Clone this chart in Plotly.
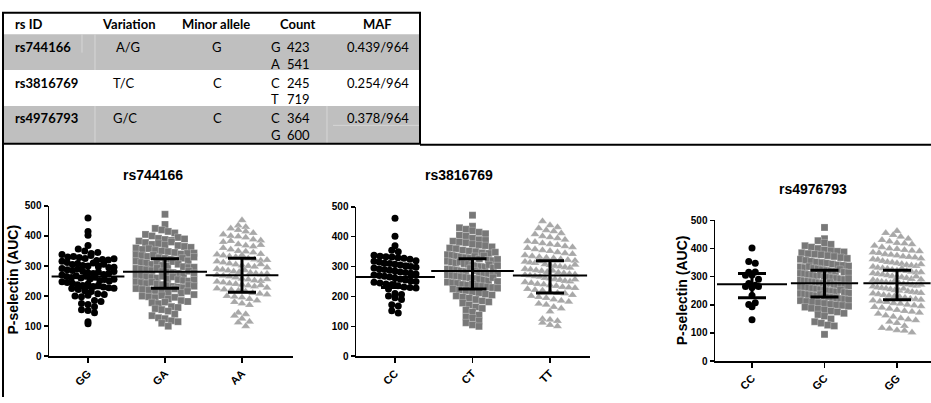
import numpy as np
import plotly.graph_objects as go

W, H = 931, 403

# ---------------- table data ----------------
table_headers = ["rs ID", "Variation", "Minor allele", "Count", "MAF"]
rs_ids = ["rs744166", "rs3816769", "rs4976793"]
variations = ["A/G", "T/C", "G/C"]
minor_alleles = ["G", "C", "C"]
count_alleles = [["G", "A"], ["C", "T"], ["C", "G"]]
count_values = [[423, 541], [245, 719], [364, 600]]
maf = ["0.439/964", "0.254/964", "0.378/964"]

# ---------------- plot data ----------------
panel_titles = ["rs744166", "rs3816769", "rs4976793"]
genotypes_1 = ["GG", "GA", "AA"]
genotypes_2 = ["CC", "CT", "TT"]
genotypes_3 = ["CC", "GC", "GG"]
y_title = "P-selectin (AUC)"
y_ticks = [0, 100, 200, 300, 400, 500]

rs744166_GG = [460, 415, 402, 368, 357, 350,
               342, 338, 345, 330, 332, 328, 325, 335,
               318, 322, 316, 320, 312, 324, 305, 308, 302, 300, 310, 298, 306,
               292, 288, 295, 285, 290, 283, 296, 278, 275, 280, 272, 276, 282, 270,
               265, 262, 268, 260, 266, 258, 263, 252, 248, 255, 245, 250, 243, 256,
               238, 235, 240, 232, 236, 230, 225, 222, 228, 218, 226, 215,
               208, 205, 200, 198, 203, 185, 182, 175, 172, 165, 155, 152, 145, 115, 108]
rs744166_GA = [472, 438, 425, 420, 415, 410, 405, 400,
               392, 388, 385, 395, 390, 383, 378, 372, 375, 370, 380, 368, 365,
               360, 355, 358, 352, 362, 350, 348, 345, 340, 338, 342, 335, 343, 332, 336,
               328, 325, 322, 320, 326, 318, 330, 316, 312, 310, 305, 308, 302, 300, 315, 306,
               298, 295, 292, 290, 288, 296, 285, 293, 282, 280, 278, 275, 272, 283, 276, 270,
               268, 265, 262, 260, 266, 258, 264, 255, 252, 250, 248, 245, 242, 254, 246, 240,
               238, 235, 232, 230, 228, 236, 225, 233, 222, 220, 218, 215, 212, 224, 210, 216,
               205, 200, 198, 195, 202, 190, 196, 185, 182, 178, 175, 180,
               165, 162, 158, 155, 150, 140, 135, 128, 125, 118, 115, 110, 100]
rs744166_AA = [452, 435, 430, 425, 420, 415, 410, 405, 400, 398, 395,
               388, 385, 380, 383, 372, 368, 365, 370, 360, 355, 350, 348, 345,
               340, 338, 335, 332, 330, 336, 325, 322, 318, 320, 315, 312,
               308, 305, 302, 300, 298, 306, 295, 290, 288, 285, 282, 280, 286, 278,
               275, 272, 270, 268, 265, 262, 274, 258, 255, 252, 250, 248, 245, 256,
               242, 240, 238, 235, 232, 236, 228, 225, 222, 220, 218, 215,
               210, 208, 205, 200, 198, 195, 190, 185, 180, 175, 170,
               145, 140, 135, 125, 115, 112, 100]

rs3816769_CC = [462, 402, 370, 355, 350, 338, 335, 333, 332, 330, 328, 325, 320, 318, 315,
                312, 310, 308, 305, 302, 300, 298, 295, 292, 290, 288, 285, 282, 280, 278,
                275, 272, 270, 268, 265, 262, 258, 255, 252, 250, 248, 245, 242, 240, 236,
                232, 230, 228, 225, 210, 207, 202, 196, 190, 172, 168, 152, 145]
rs3816769_CT = [472, 435, 430, 425, 420, 415, 410, 405, 402,
                395, 390, 388, 385, 382, 380, 375, 372, 370, 366, 362, 360,
                355, 352, 350, 346, 344, 340, 348, 338, 335, 332, 330, 328, 334, 326, 336,
                322, 320, 318, 315, 312, 324, 316, 310, 308, 305, 302, 300, 298, 306, 296, 303,
                292, 290, 288, 285, 283, 294, 286, 280, 278, 276, 274, 272, 270, 268, 277, 266,
                264, 262, 260, 258, 255, 252, 263, 250, 248, 246, 244, 240, 238, 242, 236,
                234, 232, 230, 228, 225, 222, 220, 215, 212, 208, 205, 202, 198,
                195, 190, 185, 182, 178, 172, 165, 160, 155,
                148, 138, 132, 128, 118, 112, 105, 100]
rs3816769_TT = [452, 438, 432, 428, 422, 418, 412, 408, 402, 398, 395, 390,
                385, 382, 378, 375, 372, 368, 365, 362, 358, 355, 352, 348, 345, 342,
                338, 335, 332, 330, 328, 325, 322, 320, 316, 314, 312, 318,
                308, 305, 302, 300, 298, 296, 306, 292, 290, 288, 285, 282, 286, 280,
                278, 275, 272, 270, 268, 266, 274, 262, 260, 258, 255, 252, 250, 257,
                248, 245, 242, 240, 238, 235, 232, 230, 228, 225, 222, 220,
                215, 212, 210, 205, 202, 198, 195, 190, 186, 182, 176, 172,
                165, 160, 150, 125, 122, 118, 112, 105, 100]

rs4976793_CC = [402, 354, 348, 316, 305, 306, 317, 291, 276, 265, 262, 265, 270,
                233, 201, 193, 207, 147]
rs4976793_GC = [475, 435, 428, 420, 415, 410, 405, 400,
                395, 392, 390, 388, 385, 382, 380, 378, 375, 372, 368, 365, 362,
                358, 355, 352, 350, 348, 345, 342, 340, 338, 335, 332, 336, 330,
                328, 325, 322, 320, 318, 326, 316, 314, 312, 310, 308, 305, 302, 306, 300,
                298, 296, 294, 292, 290, 288, 293, 285, 284, 282, 280, 278, 276, 274, 279, 272,
                270, 268, 266, 264, 262, 260, 267, 258, 256, 254, 252, 250, 248, 246, 253, 244,
                242, 240, 238, 236, 234, 232, 237, 230, 228, 226, 224, 222, 220, 218, 215,
                212, 210, 208, 205, 202, 200, 198, 195, 192, 188, 185, 182,
                178, 175, 170, 165, 160, 150, 140, 135, 128, 125, 95]
rs4976793_GG = [462, 455, 448, 442, 435, 430, 425, 420, 418, 415, 410, 405,
                400, 398, 395, 392, 390, 386, 384, 380, 378, 375, 372, 370,
                368, 365, 362, 360, 356, 352, 350, 348, 345, 342, 340, 338, 344,
                335, 332, 330, 328, 325, 322, 329, 320, 318, 315, 312, 310, 308, 316,
                305, 302, 300, 298, 295, 292, 301, 290, 288, 285, 282, 280, 278, 286,
                276, 274, 272, 270, 268, 265, 271, 262, 260, 258, 255, 252, 250, 257,
                248, 246, 244, 242, 240, 238, 235, 232, 230, 228, 225, 222,
                220, 218, 215, 212, 210, 206, 204, 200, 198, 195, 192,
                190, 186, 182, 178, 175, 172, 168, 162, 158, 152,
                148, 145, 140, 135, 125, 118, 115, 110, 108, 102]

# centre line and error-bar ends
centre_1 = [265, 281, 269]
lower_1 = [228, 226, 213]
upper_1 = [305, 324, 326]
centre_2 = [265, 285, 270]
lower_2 = [230, 225, 212]
upper_2 = [308, 326, 320]
centre_3 = [273, 277, 277]
lower_3 = [225, 228, 218]
upper_3 = [311, 323, 323]

# ---------------- helpers ----------------
def fx(p):
    return p / W


def fy(p):
    return 1 - p / H


def swarm_offsets(vals, px_per_unit, max_half_px, dot_px=7.0, row_px=7.0):
    vals = np.asarray(vals, float)
    rows = np.floor(vals * px_per_unit / row_px).astype(int)
    off = np.zeros(len(vals))
    for r in np.unique(rows):
        idx = np.where(rows == r)[0]
        n = len(idx)
        if n == 1:
            continue
        step = min(dot_px, 2 * max_half_px / (n - 1))
        off[idx] = (np.arange(n) - (n - 1) / 2) * step
    return off


BLACK = "#000000"
DGRAY = "#787878"
LGRAY = "#a8a8a8"
styles = [("circle", BLACK, 7), ("square", DGRAY, 7), ("triangle-up", LGRAY, 8)]

# panel geometry (pixels)
panels = [
    dict(groups=[rs744166_GG, rs744166_GA, rs744166_AA], labels=genotypes_1,
         centre=centre_1, lower=lower_1, upper=upper_1,
         x0=49, x1=293, cat0=88, spacing=77, ybot=361, ytop=206,
         halfw=[26, 29, 25], meanw=[52, 60, 52]),
    dict(groups=[rs3816769_CC, rs3816769_CT, rs3816769_TT], labels=genotypes_2,
         centre=centre_2, lower=lower_2, upper=upper_2,
         x0=356, x1=590, cat0=395, spacing=77.5, ybot=361, ytop=207,
         halfw=[21, 25, 25], meanw=[57, 59, 53]),
    dict(groups=[rs4976793_CC, rs4976793_GC, rs4976793_GG], labels=genotypes_3,
         centre=centre_3, lower=lower_3, upper=upper_3,
         x0=715, x1=931, cat0=752, spacing=72.5, ybot=366, ytop=221,
         halfw=[18, 24, 24], meanw=[50, 48, 48]),
]

fig = go.Figure()
layout_axes = {}
ytick_font = dict(family="Arial, Liberation Sans", size=10, color="black", weight="bold")
xtick_font = dict(family="Arial, Liberation Sans", size=11, color="black", weight="bold")

for i, p in enumerate(panels):
    k = "" if i == 0 else str(i + 1)
    xa, ya = "x" + k, "y" + k
    px_per_unit = (p["ybot"] - p["ytop"]) / 500.0
    for j, vals in enumerate(p["groups"]):
        sym, col, size = styles[j]
        off = swarm_offsets(vals, px_per_unit, p["halfw"][j], dot_px=size - 0.5)
        xs = j + off / p["spacing"]
        fig.add_trace(go.Scatter(
            x=xs, y=vals, mode="markers", xaxis=xa, yaxis=ya, showlegend=False,
            marker=dict(symbol=sym, color=col, size=size,
                        line=dict(width=0.4, color="rgba(255,255,255,0.6)") if j > 0 else dict(width=0)),
            hoverinfo="skip", cliponaxis=False))
    # error bars
    cen = np.array(p["centre"], float)
    up = np.array(p["upper"], float) - cen
    lo = cen - np.array(p["lower"], float)
    fig.add_trace(go.Scatter(
        x=[0, 1, 2], y=cen, mode="markers", xaxis=xa, yaxis=ya, showlegend=False,
        marker=dict(size=1, color="rgba(0,0,0,0)"),
        error_y=dict(type="data", symmetric=False, array=up, arrayminus=lo,
                     color="black", thickness=3, width=14),
        hoverinfo="skip", cliponaxis=False))
    # centre lines
    for j in range(3):
        fig.add_trace(go.Scatter(
            x=[j], y=[cen[j]], mode="markers", xaxis=xa, yaxis=ya, showlegend=False,
            marker=dict(symbol="line-ew", size=p["meanw"][j],
                        line=dict(width=2, color="black")),
            hoverinfo="skip", cliponaxis=False))

    left = (p["x0"] - p["cat0"]) / p["spacing"]
    right = (p["x1"] - p["cat0"]) / p["spacing"]
    layout_axes["xaxis" + k] = dict(
        domain=[fx(p["x0"]), fx(p["x1"])], range=[left, right], anchor=ya,
        tickmode="array", tickvals=[0, 1, 2], ticktext=p["labels"], tickangle=-45,
        showline=True, linecolor="black", linewidth=1.5, ticks="outside",
        ticklen=5, tickwidth=1.5, tickcolor="black", showgrid=False, zeroline=False,
        tickfont=xtick_font, fixedrange=True)
    layout_axes["yaxis" + k] = dict(
        domain=[fy(p["ybot"]), fy(p["ytop"])], range=[0, 500], anchor=xa,
        tickmode="array", tickvals=y_ticks,
        showline=True, linecolor="black", linewidth=1.5, ticks="outside",
        ticklen=4, tickwidth=1.5, tickcolor="black", showgrid=False, zeroline=False,
        tickfont=ytick_font, fixedrange=True)

shapes = []
annotations = []

# ---------------- table ----------------
GRAYROW = "#bfbfbf"
row_tops = [29, 66, 103]
row_bots = [66, 103, 142]
for r in range(3):
    if r != 1:
        shapes.append(dict(type="rect", xref="paper", yref="paper", x0=fx(3), x1=fx(420),
                           y0=fy(row_bots[r]), y1=fy(row_tops[r]), fillcolor=GRAYROW,
                           line=dict(width=0), layer="below"))
# faint cell lines inside gray rows
faint = dict(color="#d6d6d6", width=1)
for (xa_, ya_, xb_, yb_) in [(82, 29, 82, 48), (95, 29, 95, 66), (327, 103, 327, 142),
                             (333, 123, 420, 123), (95, 103, 95, 142)]:
    shapes.append(dict(type="line", xref="paper", yref="paper", x0=fx(xa_), y0=fy(ya_),
                       x1=fx(xb_), y1=fy(yb_), line=faint, layer="below"))
# borders
shapes.append(dict(type="rect", xref="paper", yref="paper", x0=fx(3), x1=fx(420),
                   y0=fy(142), y1=fy(7), line=dict(color="black", width=2)))
shapes.append(dict(type="line", xref="paper", yref="paper", x0=fx(420), x1=fx(931),
                   y0=fy(143), y1=fy(143), line=dict(color="black", width=2)))
shapes.append(dict(type="line", xref="paper", yref="paper", x0=fx(3), x1=fx(3),
                   y0=fy(142), y1=fy(403), line=dict(color="black", width=2)))

tfont = dict(family="Lato, Open Sans, sans-serif", size=13, color="black")
tfont_b = dict(tfont, weight="bold")

def ann(text, x, y, font, xanchor="center"):
    annotations.append(dict(text=text, x=fx(x), y=fy(y), xref="paper", yref="paper",
                            xanchor=xanchor, yanchor="middle", showarrow=False, font=font))

header_x = [13, 128, 216, 298, 377]
for h, x in zip(table_headers, header_x):
    ann(h, x, 19, tfont_b, "left" if h == "rs ID" else "center")

line1_y = [42, 79, 115]
line2_y = [60, 96, 133]
var_x = [128, 124, 125]
for r in range(3):
    ann(rs_ids[r], 13, line1_y[r], tfont_b, "left")
    ann(variations[r], var_x[r], line1_y[r], tfont)
    ann(minor_alleles[r], 217, line1_y[r], tfont)
    ann(count_alleles[r][0], 269, line1_y[r], tfont, "left")
    ann(str(count_values[r][0]), 285, line1_y[r], tfont, "left")
    ann(count_alleles[r][1], 269, line2_y[r], tfont, "left")
    ann(str(count_values[r][1]), 285, line2_y[r], tfont, "left")
    ann(maf[r], 378, line1_y[r], tfont)

# ---------------- panel titles ----------------
title_font = dict(family="Arial, Liberation Sans", size=14, color="black", weight="bold")
for t, (x, y) in zip(panel_titles, [(153, 174), (459, 174), (813, 189)]):
    ann(t, x, y, title_font)
for (x, y) in [(13, 282), (682, 293)]:
    annotations.append(dict(text=y_title, x=fx(x), y=fy(y), xref="paper", yref="paper",
                            xanchor="center", yanchor="middle", showarrow=False,
                            textangle=-90, font=title_font))

fig.update_layout(
    width=W, height=H, margin=dict(l=0, r=0, t=0, b=0),
    paper_bgcolor="white", plot_bgcolor="white",
    shapes=shapes, annotations=annotations, showlegend=False,
    **layout_axes)

fig.write_html("out.html",
               config={"displayModeBar": False, "staticPlot": True},
               post_script="document.body.style.margin='0';"
                           "document.body.style.padding='0';"
                           "document.body.style.overflow='hidden';"
                           "document.documentElement.style.overflow='hidden';")
